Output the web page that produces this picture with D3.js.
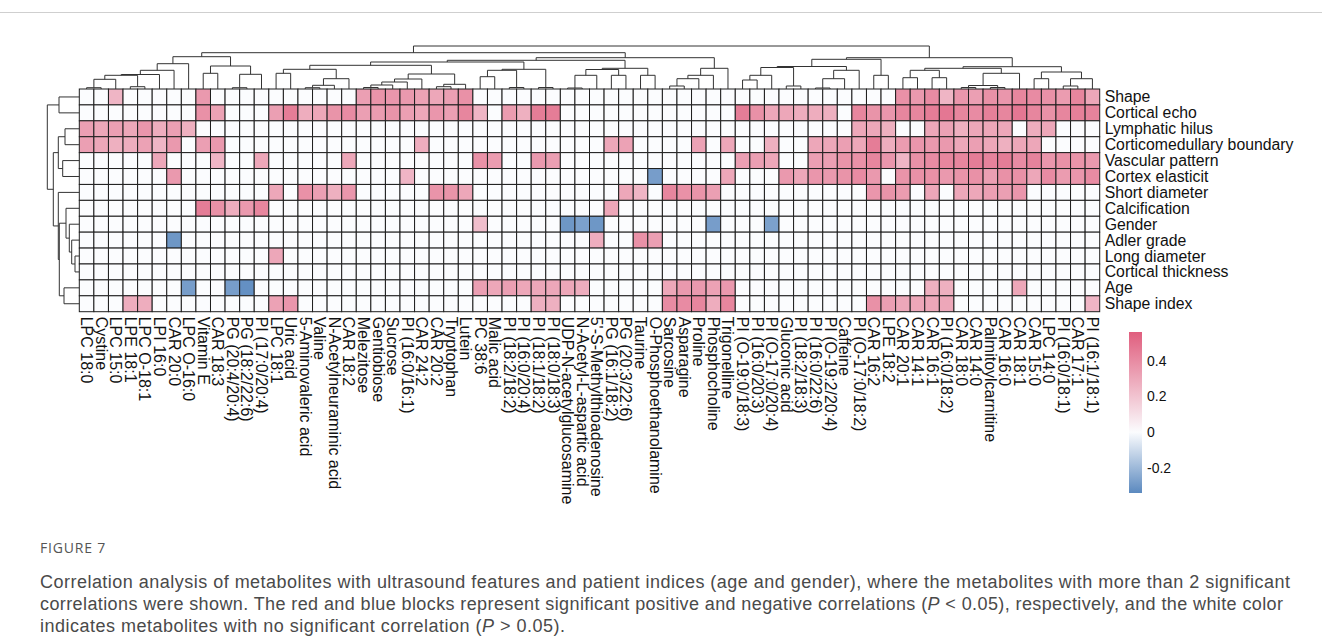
<!DOCTYPE html>
<html>
<head>
<meta charset="utf-8">
<script src="https://cdn.jsdelivr.net/npm/d3@7"></script>
<style>
  body { margin: 0; background: #fff; }
  text { font-family: "Liberation Sans", Arial, sans-serif; }
</style>
</head>
<body>
<svg id="canvas" width="1322" height="636"></svg>
<script>
// row / column names (in dendrogram order)
const rowNames = ['Shape', 'Cortical echo', 'Lymphatic hilus', 'Corticomedullary boundary', 'Vascular pattern',
    'Cortex elasticit', 'Short diameter', 'Calcification', 'Gender', 'Adler grade', 'Long diameter',
    'Cortical thickness', 'Age', 'Shape index'];

const colNames = ['LPC 18:0', 'Cystine', 'LPC 15:0', 'LPE 18:1', 'LPC O-18:1', 'LPI 16:0', 'CAR 20:0', 'LPC O-16:0',
    'Vitamin E', 'CAR 18:3', 'PG (20:4/20:4)', 'PG (18:2/22:6)', 'PI (17:0/20:4)', 'LPC 18:1', 'Uric acid',
    '5-Aminovaleric acid', 'Valine', 'N-Acetylneuraminic acid', 'CAR 18:2', 'Melezitose', 'Gentiobiose', 'Sucrose',
    'PI (16:0/16:1)', 'CAR 24:2', 'CAR 20:2', 'Tryptophan', 'Lutein', 'PC 38:6', 'Malic acid', 'PI (18:2/18:2)',
    'PI (16:0/20:4)', 'PI (18:1/18:2)', 'PI (18:0/18:3)', 'UDP-N-acetylglucosamine', 'N-Acetyl-L-aspartic acid',
    "5'-S-Methylthioadenosine", 'PG (16:1/18:2)', 'PG (20:3/22:6)', 'Taurine', 'O-Phosphoethanolamine', 'Sarcosine',
    'Asparagine', 'Proline', 'Phosphocholine', 'Trigonelline', 'PI (O-19:0/18:3)', 'PI (16:0/20:3)',
    'PI (O-17:0/20:4)', 'Gluconic acid', 'PI (18:2/18:3)', 'PI (16:0/22:6)', 'PI (O-19:2/20:4)', 'Caffeine',
    'PI (O-17:0/18:2)', 'CAR 16:2', 'LPE 18:2', 'CAR 20:1', 'CAR 14:1', 'CAR 16:1', 'PI (16:0/18:2)', 'CAR 18:0',
    'CAR 14:0', 'Palmitoylcarnitine', 'CAR 16:0', 'CAR 18:1', 'CAR 15:0', 'LPC 14:0', 'PI (16:0/18:1)', 'CAR 17:1',
    'PI (16:1/18:1)'];

// significant correlation coefficients (0 = not significant), one array per row
const shapeR = [0, 0, .25, 0, 0, 0, 0, 0, .35, 0, 0, 0, 0, 0, 0, 0, 0, 0, 0, .33,
    .37, .36, .35, .32, .30, .33, .38, 0, 0, 0, 0, 0, 0, 0, 0, 0, 0, 0, 0, 0,
    0, 0, 0, 0, 0, 0, 0, 0, 0, 0, 0, 0, 0, 0, 0, 0, .38, .35, .40, .25,
    .36, .33, .38, .36, .42, .40, .38, .34, .42, .30];
const corticalEchoR = [0, 0, 0, 0, 0, 0, 0, 0, .38, .32, 0, 0, 0, .33, .45, .28, .30, .37, .40, .33,
    .34, .37, .33, .30, .36, .33, .42, .25, 0, .34, .27, .45, .45, 0, 0, 0, 0, 0, 0, 0,
    0, 0, 0, 0, 0, .45, .38, .30, .30, .28, .28, .27, 0, .42, .37, .36, .42, .42, .45, .47,
    .42, .40, .44, .42, .47, .42, .38, .42, .44, .43];
const lymphaticR = [.33, .30, .33, .30, .36, .28, .33, .27, 0, 0, 0, 0, 0, 0, 0, 0, 0, 0, 0, 0,
    0, 0, 0, 0, 0, 0, 0, 0, 0, 0, 0, 0, 0, 0, 0, 0, 0, 0, 0, 0,
    0, 0, 0, 0, 0, 0, 0, 0, 0, 0, 0, 0, 0, .30, .30, .27, 0, 0, .30, .32,
    .27, .30, .30, .30, 0, .28, .30, 0, 0, 0];
const corticomedullaryR = [.33, .30, .27, .28, .32, .25, .35, 0, .33, .35, 0, 0, 0, 0, 0, 0, 0, 0, 0, 0,
    0, 0, 0, .28, 0, 0, 0, 0, 0, 0, 0, 0, 0, 0, 0, 0, .30, .32, 0, 0,
    0, 0, .32, 0, .30, 0, 0, .27, 0, 0, .30, .30, .33, .30, .45, .28, .34, .36, .35, .35,
    .30, .33, .30, .27, .30, .30, 0, 0, 0, 0];
const vascularR = [0, 0, 0, 0, 0, .30, 0, 0, 0, .25, 0, 0, .30, 0, 0, 0, 0, 0, .30, 0,
    0, 0, 0, 0, 0, 0, 0, .38, .34, 0, 0, .35, .33, 0, 0, 0, 0, 0, 0, 0,
    0, 0, 0, 0, 0, .33, .33, .30, 0, 0, .33, .33, .37, .38, .42, .36, .25, .38, .40, .42,
    .42, .45, .43, .45, .40, .43, .36, .38, .37, .35];
const elasticityR = [0, 0, 0, 0, 0, 0, .35, 0, 0, 0, 0, 0, 0, 0, 0, 0, 0, 0, 0, 0,
    0, 0, .25, 0, 0, 0, 0, 0, 0, 0, 0, 0, 0, 0, 0, 0, 0, 0, 0, -.28,
    0, 0, 0, 0, .30, 0, 0, 0, .35, .30, .36, .35, .37, .40, .35, 0, .37, .38, .38, .35,
    .37, .38, .33, .38, .38, .30, .40, .34, .36, .40];
const shortDiameterR = [0, 0, 0, 0, 0, 0, 0, 0, 0, 0, 0, 0, 0, .30, 0, .38, .33, .27, .36, 0,
    0, 0, 0, 0, .37, .37, .30, 0, 0, 0, 0, 0, 0, 0, 0, 0, 0, .30, .25, 0,
    .42, .38, .37, .33, 0, 0, 0, 0, 0, 0, 0, 0, 0, 0, .36, .37, .34, 0, .30, 0,
    .30, .30, .33, .33, .36, 0, 0, 0, 0, 0];
const calcificationR = [0, 0, 0, 0, 0, 0, 0, 0, .45, .38, .28, .35, .42, 0, 0, 0, 0, 0, 0, 0,
    0, 0, 0, 0, 0, 0, 0, 0, 0, 0, 0, 0, 0, 0, 0, 0, .30, 0, 0, 0,
    0, 0, 0, 0, 0, 0, 0, 0, 0, 0, 0, 0, 0, 0, 0, 0, 0, 0, 0, 0,
    0, 0, 0, 0, 0, 0, 0, 0, 0, 0];
const genderR = [0, 0, 0, 0, 0, 0, 0, 0, 0, 0, 0, 0, 0, 0, 0, 0, 0, 0, 0, 0,
    0, 0, 0, 0, 0, 0, 0, .22, 0, 0, 0, 0, 0, -.30, -.27, -.30, 0, 0, 0, 0,
    0, 0, 0, -.28, 0, 0, 0, -.27, 0, 0, 0, 0, 0, 0, 0, 0, 0, 0, 0, 0,
    0, 0, 0, 0, 0, 0, 0, 0, 0, 0];
const adlerR = [0, 0, 0, 0, 0, 0, -.30, 0, 0, 0, 0, 0, 0, 0, 0, 0, 0, 0, 0, 0,
    0, 0, 0, 0, 0, 0, 0, 0, 0, 0, 0, 0, 0, 0, 0, .28, 0, 0, .38, .33,
    0, 0, 0, 0, 0, 0, 0, 0, 0, 0, 0, 0, 0, 0, 0, 0, 0, 0, 0, 0,
    0, 0, 0, 0, 0, 0, 0, 0, 0, 0];
const longDiameterR = [0, 0, 0, 0, 0, 0, 0, 0, 0, 0, 0, 0, 0, .30, 0, 0, 0, 0, 0, 0,
    0, 0, 0, 0, 0, 0, 0, 0, 0, 0, 0, 0, 0, 0, 0, 0, 0, 0, 0, 0,
    0, 0, 0, 0, 0, 0, 0, 0, 0, 0, 0, 0, 0, 0, 0, 0, 0, 0, 0, 0,
    0, 0, 0, 0, 0, 0, 0, 0, 0, 0];
const thicknessR = [0, 0, 0, 0, 0, 0, 0, 0, 0, 0, 0, 0, 0, 0, 0, 0, 0, 0, 0, 0,
    0, 0, 0, 0, 0, 0, 0, 0, 0, 0, 0, 0, 0, 0, 0, 0, 0, 0, 0, 0,
    0, 0, 0, 0, 0, 0, 0, 0, 0, 0, 0, 0, 0, 0, 0, 0, 0, 0, 0, 0,
    0, 0, 0, 0, 0, 0, 0, 0, 0, 0];
const ageR = [0, 0, 0, 0, 0, 0, 0, -.28, 0, 0, -.28, -.32, 0, 0, 0, 0, 0, 0, 0, 0,
    0, 0, 0, 0, 0, 0, 0, .33, .30, .33, .30, .30, .30, .30, .28, 0, 0, 0, 0, 0,
    .30, .35, .35, .32, .35, 0, 0, 0, 0, 0, 0, 0, 0, 0, 0, 0, 0, 0, .27, .27,
    0, 0, 0, 0, .30, 0, 0, 0, 0, 0];
const shapeIndexR = [0, 0, 0, .28, .28, 0, 0, 0, 0, 0, 0, 0, 0, .32, .36, 0, 0, 0, 0, 0,
    0, 0, 0, 0, 0, 0, 0, 0, 0, 0, 0, .27, .27, 0, 0, 0, 0, 0, 0, 0,
    .40, .40, .42, .28, .42, 0, 0, 0, 0, 0, 0, 0, 0, 0, .38, .33, .30, .30, .30, .30,
    0, 0, 0, 0, 0, 0, 0, 0, 0, .25];

const corrRows = [shapeR, corticalEchoR, lymphaticR, corticomedullaryR, vascularR, elasticityR, shortDiameterR,
    calcificationR, genderR, adlerR, longDiameterR, thicknessR, ageR, shapeIndexR];

// clustering trees: [merge height, left, right], leaves are indexes
const colTree = [43,
    [36.3,
        [32.3,
            [25.3, [18.7, [14.5, [13.7, [9.7, [1.3, 0, 1], 2], [2.3, 3, 4]], 5], 6], 7],
            [23, [15.7, 8, 9], [14.7, [1.3, 10, 11], 12]]],
        [31.3,
            [28.7,
                [27,
                    [23.7,
                        [19.7, [15.7, 13, 14], [10.3, [3.7, [1.3, 15, 16], 17], 18]],
                        [15, [10, [7, [4, [1.5, 19, 20], 21], 22], 23], [4.7, [2.3, 24, 25], 26]]],
                    [19.7, [18.7, [12.3, 27, 28], [1.5, 29, 30]], [1.5, 31, 32]]],
                [20.7, [19.5, [13.7, [1, 33, 34], 35], [13.7, 36, 37]], [13.7, 38, 39]]],
            [20.7, [13.7, [10.3, [3, 40, 41], 42], 43], 44]]],
    [31.3,
        [29.7,
            [22.5,
                [21.5, [13.7, [9, 45, 46], 47], [3, 48, 49]],
                [18.7, [10.3, [1, 50, 51], 52], 53]],
            [13.7, 54, 55]],
        [22.3,
            [20.7,
                [18.7, [11.3, 56, 57], [11.3, 58, 59]],
                [15.7, [3.5, [1.5, 60, 61], [1.5, 62, 63]], 64]],
            [17, [10.3, 65, 66], [10.3, [3, 67, 68], 69]]]]];

const rowTree = [32,
    [20.3, 0, 1],
    [26,
        [21, [14.3, 2, 3], [16.6, 4, 5]],
        [21, 6, [20, [13.3, 7, [10, 8, [7.6, 9, [4.3, 10, 11]]]], [15.3, 12, 13]]]]];

const legendTicks = [-0.2, 0, 0.2, 0.4];
const legendRange = [-0.34, 0.56];

const figureLabel = 'FIGURE 7';
const captionLines = [
    ['Correlation analysis of metabolites with ultrasound features and patient indices (age and gender), where the metabolites with more than 2 significant'],
    ['correlations were shown. The red and blue blocks represent significant positive and negative correlations (', 'P', ' < 0.05), respectively, and the white color'],
    ['indicates metabolites with no significant correlation (', 'P', ' > 0.05).']
];
const captionWidths = [1250, 1243, 525];

let canvas = d3.select('#canvas');

const plotLeft = 79.3, plotRight = 1099.7, plotTop = 89, plotBottom = 311.7;

let xScale = d3.scaleBand().domain(d3.range(colNames.length)).range([plotLeft, plotRight]);
let yScale = d3.scaleBand().domain(d3.range(rowNames.length)).range([plotTop, plotBottom]);

let colorScale = d3.scaleLinear()
    .domain([legendRange[0], 0, legendRange[1]])
    .range(['#5b89bf', '#fbfcfe', '#e05e7e']);

// frame rule at top of the figure
canvas.append('line')
    .attr('x1', 0).attr('x2', 1322)
    .attr('y1', 12.5).attr('y2', 12.5)
    .attr('stroke', '#cfcfcf');

// heatmap cells
let cells = [];
corrRows.forEach((row, r) => row.forEach((v, c) => cells.push({ r: r, c: c, v: v })));

canvas.append('g')
    .selectAll('rect')
    .data(cells)
    .enter()
    .append('rect')
    .attr('x', d => xScale(d.c))
    .attr('y', d => yScale(d.r))
    .attr('width', xScale.bandwidth())
    .attr('height', yScale.bandwidth())
    .attr('fill', d => colorScale(d.v))
    .attr('stroke', '#1e1e1e')
    .attr('stroke-width', 1);

// dendrograms
const layoutTree = (node, center, links) => {
    if (typeof node === 'number') {
        return { pos: center(node), h: 0 };
    }
    let a = layoutTree(node[1], center, links);
    let b = layoutTree(node[2], center, links);
    links.push({ a: a, b: b, h: node[0] });
    return { pos: (a.pos + b.pos) / 2, h: node[0] };
};

let colLinks = [];
layoutTree(colTree, i => xScale(i) + xScale.bandwidth() / 2, colLinks);
let colHeight = d3.scaleLinear().domain([0, colTree[0]]).range([plotTop, 46]);

canvas.append('g')
    .selectAll('path')
    .data(colLinks)
    .enter()
    .append('path')
    .attr('d', l => 'M' + l.a.pos + ',' + colHeight(l.a.h) + 'V' + colHeight(l.h) +
        'H' + l.b.pos + 'V' + colHeight(l.b.h))
    .attr('fill', 'none')
    .attr('stroke', '#333')
    .attr('stroke-width', 1);

let rowLinks = [];
layoutTree(rowTree, i => yScale(i) + yScale.bandwidth() / 2, rowLinks);
let rowHeight = d3.scaleLinear().domain([0, rowTree[0]]).range([plotLeft, 47.3]);

canvas.append('g')
    .selectAll('path')
    .data(rowLinks)
    .enter()
    .append('path')
    .attr('d', l => 'M' + rowHeight(l.a.h) + ',' + l.a.pos + 'H' + rowHeight(l.h) +
        'V' + l.b.pos + 'H' + rowHeight(l.b.h))
    .attr('fill', 'none')
    .attr('stroke', '#333')
    .attr('stroke-width', 1);

// row labels
canvas.append('g')
    .selectAll('text')
    .data(rowNames)
    .enter()
    .append('text')
    .attr('x', plotRight + 5)
    .attr('y', (d, i) => yScale(i) + yScale.bandwidth() / 2)
    .attr('dominant-baseline', 'central')
    .attr('font-size', '15.8px')
    .attr('fill', '#111')
    .text(d => d);

// column labels, rotated
canvas.append('g')
    .selectAll('text')
    .data(colNames)
    .enter()
    .append('text')
    .attr('transform', (d, i) => 'translate(' + (xScale(i) + xScale.bandwidth() / 2) + ',' + (plotBottom + 5) + ') rotate(90)')
    .attr('dominant-baseline', 'central')
    .attr('font-size', '16px')
    .attr('fill', '#111')
    .text(d => d);

// colour legend
let legendScale = d3.scaleLinear().domain(legendRange).range([493, 332]);

let gradient = canvas.append('defs')
    .append('linearGradient')
    .attr('id', 'legendGradient')
    .attr('x1', 0).attr('x2', 0).attr('y1', 1).attr('y2', 0);

gradient.selectAll('stop')
    .data(colorScale.domain())
    .enter()
    .append('stop')
    .attr('offset', d => (d - legendRange[0]) / (legendRange[1] - legendRange[0]))
    .attr('stop-color', d => colorScale(d));

canvas.append('rect')
    .attr('x', 1129)
    .attr('y', legendScale(legendRange[1]))
    .attr('width', 13)
    .attr('height', legendScale(legendRange[0]) - legendScale(legendRange[1]))
    .attr('fill', 'url(#legendGradient)');

let legendAxis = d3.axisRight(legendScale)
    .tickValues(legendTicks)
    .tickSize(0)
    .tickPadding(0)
    .tickFormat(d => String(d));

canvas.append('g')
    .attr('transform', 'translate(1147,0)')
    .call(legendAxis)
    .call(g => g.select('.domain').remove())
    .selectAll('text')
    .attr('font-family', '"Liberation Sans", Arial, sans-serif')
    .attr('font-size', '14px')
    .attr('fill', '#111');

// caption
canvas.append('text')
    .attr('x', 40)
    .attr('y', 553)
    .attr('font-size', '14px')
    .attr('letter-spacing', '0.8px')
    .attr('fill', '#555')
    .style('font-family', '"Open Sans", sans-serif')
    .text(figureLabel);

let caption = canvas.append('g')
    .style('font-family', '"Open Sans", sans-serif')
    .attr('font-size', '18px')
    .attr('fill', '#4a4a4a');

captionLines.forEach((parts, i) => {
    let line = caption.append('text')
        .attr('x', 40)
        .attr('y', 588 + i * 22)
        .attr('textLength', captionWidths[i])
        .attr('lengthAdjust', 'spacing');
    parts.forEach(p => {
        line.append('tspan')
            .attr('font-style', p === 'P' ? 'italic' : 'normal')
            .text(p);
    });
});
</script>
</body>
</html>
